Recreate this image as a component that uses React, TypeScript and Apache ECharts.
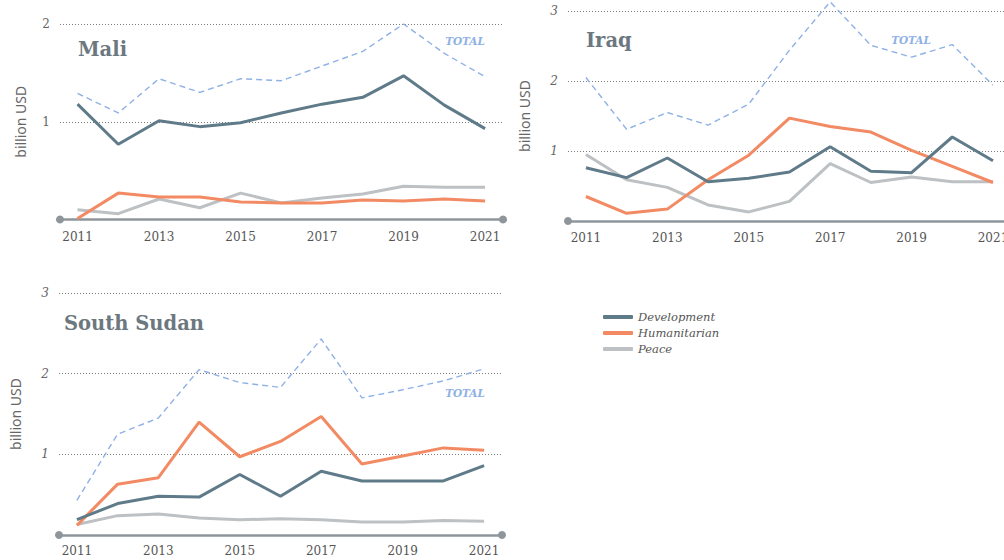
import React, { useEffect, useRef } from "react";
import * as echarts from "echarts";

const years = [2011, 2012, 2013, 2014, 2015, 2016, 2017, 2018, 2019, 2020, 2021];
const yearLabels = [2011, 2013, 2015, 2017, 2019, 2021];

const maliDevelopment = [1.18, 0.77, 1.01, 0.95, 0.99, 1.09, 1.18, 1.25, 1.47, 1.17, 0.93];
const maliHumanitarian = [0.01, 0.27, 0.23, 0.23, 0.18, 0.17, 0.17, 0.2, 0.19, 0.21, 0.19];
const maliPeace = [0.1, 0.06, 0.21, 0.12, 0.27, 0.17, 0.22, 0.26, 0.34, 0.33, 0.33];
const maliTotal = [1.29, 1.09, 1.44, 1.3, 1.44, 1.42, 1.57, 1.72, 2.0, 1.7, 1.46];

const iraqDevelopment = [0.76, 0.62, 0.9, 0.56, 0.61, 0.7, 1.06, 0.71, 0.69, 1.2, 0.86];
const iraqHumanitarian = [0.35, 0.11, 0.17, 0.59, 0.94, 1.47, 1.35, 1.27, 1.01, 0.78, 0.55];
const iraqPeace = [0.95, 0.59, 0.48, 0.23, 0.13, 0.28, 0.82, 0.55, 0.63, 0.56, 0.56];
const iraqTotal = [2.05, 1.31, 1.55, 1.37, 1.67, 2.44, 3.13, 2.51, 2.34, 2.52, 1.94];

const ssDevelopment = [0.19, 0.39, 0.48, 0.47, 0.75, 0.48, 0.79, 0.67, 0.67, 0.67, 0.86];
const ssHumanitarian = [0.12, 0.63, 0.71, 1.4, 0.97, 1.16, 1.47, 0.88, 0.98, 1.08, 1.05];
const ssPeace = [0.13, 0.24, 0.26, 0.21, 0.19, 0.2, 0.19, 0.16, 0.16, 0.18, 0.17];
const ssTotal = [0.43, 1.25, 1.45, 2.05, 1.89, 1.83, 2.43, 1.7, 1.8, 1.91, 2.06];

const panelNames = ["Mali", "Iraq", "South Sudan"];
const yMax = [2, 3, 3];

const COLORS = {
  Development: "#5f7b89",
  Humanitarian: "#f28a63",
  Peace: "#bdc1c4",
  Total: "#8fb1e6",
};

const SERIF = "DejaVu Serif";

export default function App() {
  const ref = useRef<HTMLDivElement>(null);

  useEffect(() => {
    if (!ref.current) return;
    const chart = echarts.init(ref.current, null, { renderer: "svg" });

    const panels = [
      { dev: maliDevelopment, hum: maliHumanitarian, peace: maliPeace, total: maliTotal },
      { dev: iraqDevelopment, hum: iraqHumanitarian, peace: iraqPeace, total: iraqTotal },
      { dev: ssDevelopment, hum: ssHumanitarian, peace: ssPeace, total: ssTotal },
    ];

    const grids = [
      { left: 60, top: 24, width: 443, height: 195.5, outerBoundsMode: "none", containLabel: false },
      { left: 568, top: 11, width: 460, height: 210, outerBoundsMode: "none", containLabel: false },
      { left: 59, top: 293, width: 443, height: 242, outerBoundsMode: "none", containLabel: false },
    ];
    const xRanges = [
      { min: 2010.57, max: 2021.44 },
      { min: 2010.56, max: 2021.86 },
      { min: 2010.56, max: 2021.44 },
    ];
    const yNameGap = [33, 37, 37];
    const yItalic = [false, true, true];
    const xLabelMargin = [11, 11, 10];

    const xAxis = grids.map((_, i) => ({
      type: "value",
      gridIndex: i,
      min: xRanges[i].min,
      max: xRanges[i].max,
      axisLine: {
        show: true,
        symbol: ["circle", "circle"],
        symbolSize: [8, 8],
        lineStyle: { color: "#8e969b", width: 2.5 },
      },
      axisTick: { show: false },
      splitLine: { show: false },
      axisLabel: {
        customValues: yearLabels,
        formatter: (v: number) => String(v),
        color: "#555",
        fontFamily: SERIF,
        fontSize: 12,
        margin: xLabelMargin[i],
      },
    }));

    const yAxis = grids.map((_, i) => ({
      type: "value",
      gridIndex: i,
      min: 0,
      max: yMax[i],
      interval: 1,
      name: "billion USD",
      nameLocation: "middle",
      nameRotate: 90,
      nameGap: yNameGap[i],
      nameTextStyle: { color: "#666", fontFamily: "Noto Sans", fontSize: 14 },
      axisLine: { show: false },
      axisTick: { show: false },
      splitLine: { show: true, lineStyle: { color: "#7d7d7d", width: 1, type: [1, 2] } },
      axisLabel: {
        formatter: (v: number) => (v === 0 ? "" : String(v)),
        color: "#666",
        fontFamily: SERIF,
        fontSize: 12,
        fontStyle: yItalic[i] ? "italic" : "normal",
        margin: 10,
      },
    }));

    const series: any[] = [];
    panels.forEach((p, i) => {
      const mk = (name: string, arr: number[], extra: any = {}) => ({
        name,
        type: "line",
        xAxisIndex: i,
        yAxisIndex: i,
        data: years.map((y, k) => [y, arr[k]]),
        symbol: "none",
        clip: false,
        itemStyle: { color: (COLORS as any)[name] },
        lineStyle: { color: (COLORS as any)[name], width: 3 },
        ...extra,
      });
      series.push(mk("Peace", p.peace));
      series.push(mk("Humanitarian", p.hum));
      series.push(mk("Development", p.dev));
      series.push(
        mk("Total", p.total, {
          lineStyle: { color: COLORS.Total, width: 1.4, type: [6, 4] },
        })
      );
    });

    const titlePos = [
      { x: 78, y: 49 },
      { x: 586, y: 40 },
      { x: 64, y: 323 },
    ];
    const totalPos = [
      { x: 465, y: 41 },
      { x: 911, y: 40 },
      { x: 465, y: 393 },
    ];

    const graphic: any[] = [];
    panelNames.forEach((n, i) => {
      graphic.push({
        type: "text",
        x: titlePos[i].x,
        y: titlePos[i].y,
        style: {
          text: n,
          fill: "#6c7880",
          font: `bold 19.5px "${SERIF}"`,
          textAlign: "left",
          textVerticalAlign: "middle",
        },
      });
      graphic.push({
        type: "text",
        x: totalPos[i].x,
        y: totalPos[i].y,
        style: {
          text: "TOTAL",
          fill: COLORS.Total,
          font: `italic bold 10.5px "${SERIF}"`,
          textAlign: "center",
          textVerticalAlign: "middle",
        },
      });
    });

    chart.setOption({
      animation: false,
      backgroundColor: "#ffffff",
      grid: grids,
      xAxis,
      yAxis,
      series,
      graphic,
      legend: {
        data: ["Development", "Humanitarian", "Peace"],
        orient: "vertical",
        left: 603,
        top: 310,
        padding: 0,
        icon: "roundRect",
        itemWidth: 30,
        itemHeight: 4,
        itemGap: 2,
        selectedMode: false,
        textStyle: {
          color: "#555",
          fontFamily: SERIF,
          fontStyle: "italic",
          fontSize: 11.5,
          lineHeight: 14,
        },
      },
    });

    return () => chart.dispose();
  }, []);

  return (
    <div
      ref={ref}
      style={{ position: "fixed", left: 0, top: 0, width: 1004, height: 560, background: "#fff" }}
    />
  );
}
